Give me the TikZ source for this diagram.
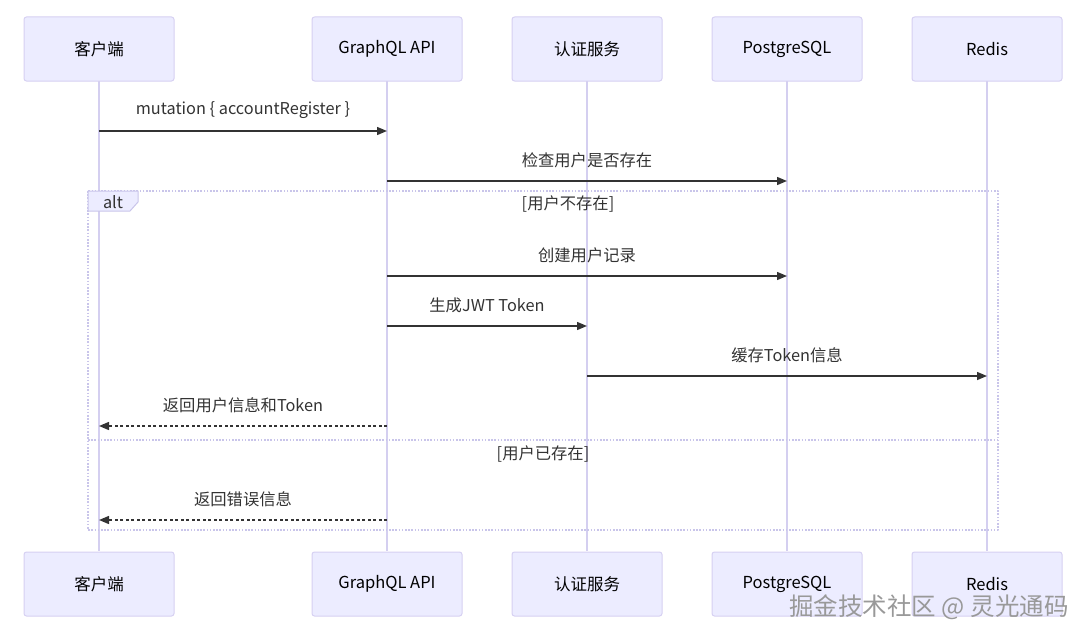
\documentclass[tikz,border=0pt]{standalone}
\usepackage{fontspec}
\setmainfont{Noto Sans CJK SC}
\usetikzlibrary{arrows.meta}
\definecolor{actorfill}{HTML}{ECECFF}
\definecolor{actorline}{HTML}{D6D0F2}
\definecolor{lifeline}{HTML}{D4CFF0}
\definecolor{msgline}{HTML}{333333}
\definecolor{frameline}{HTML}{C9C5EA}
\tikzset{
  actor/.style={draw=actorline,fill=actorfill,rounded corners=2.5pt,line width=1pt,
    minimum width=150pt,minimum height=64pt,inner sep=0pt,font=\fontsize{16.5}{19}\selectfont},
  msg/.style={draw=msgline,line width=1.4pt,-{Triangle[length=10pt,width=8pt]}},
  reply/.style={msg,dash pattern=on 3pt off 2.5pt},
  msglabel/.style={text=msgline,font=\fontsize{16.3}{19}\selectfont,inner sep=0pt},
  framebox/.style={draw=frameline,line width=1.2pt,dash pattern=on 1.6pt off 1.6pt},
}
\begin{document}
\begin{tikzpicture}[x=1pt,y=-1pt,line join=round]
\useasboundingbox (0,0) rectangle (1091,642);
\def\ytop{49}
\def\ybot{584}
% lifelines and actors
\foreach \n/\x/\t in {kh/99/客户端,gq/387/GraphQL API,rz/587/认证服务,pg/787/PostgreSQL,rd/987/Redis}{
  \draw[lifeline,line width=1.4pt] (\x,80) -- (\x,551);
  \node[actor] (\n-top) at (\x,\ytop) {\t};
  \node[actor] (\n-bot) at (\x,\ybot) {\t};
}
% message anchors on the lifelines
\path
  (99,131) coordinate (m1a) (387,131) coordinate (m1b)
  (387,181) coordinate (m2a) (787,181) coordinate (m2b)
  (387,276) coordinate (m3a) (787,276) coordinate (m3b)
  (387,326) coordinate (m4a) (587,326) coordinate (m4b)
  (587,376) coordinate (m5a) (987,376) coordinate (m5b)
  (387,426) coordinate (m6a) (99,426) coordinate (m6b)
  (387,520) coordinate (m7a) (99,520) coordinate (m7b)
  ;
% alt frame
\draw[framebox] (88,191) rectangle (998,530);
\draw[framebox] (88,440) -- (998,440);
\draw[draw=frameline,fill=actorfill,line width=1pt] (88,191) -- (138,191) -- (138,202) -- (130,211) -- (88,211) -- cycle;
\node[msglabel] (alt) at (113,202) {alt};
\node[msglabel] (g1) at (568,204) {[用户不存在]};
\node[msglabel] (g2) at (543,454) {[用户已存在]};
% messages
\draw[msg] (m1a) -- (m1b) node[msglabel,midway,above=12pt] {mutation \{ accountRegister \}};
\draw[msg] (m2a) -- (m2b) node[msglabel,midway,above=12pt] {检查用户是否存在};
\draw[msg] (m3a) -- (m3b) node[msglabel,midway,above=12pt] {创建用户记录};
\draw[msg] (m4a) -- (m4b) node[msglabel,midway,above=12pt] {生成JWT Token};
\draw[msg] (m5a) -- (m5b) node[msglabel,midway,above=12pt] {缓存Token信息};
\draw[reply] (m6a) -- (m6b) node[msglabel,midway,above=12pt] {返回用户信息和Token};
\draw[reply] (m7a) -- (m7b) node[msglabel,midway,above=12pt] {返回错误信息};
% watermark
\node[text=gray!80,font=\fontsize{24.5}{28}\selectfont,inner sep=0pt] (mark) at (929,607) {掘金技术社区 @ 灵光通码};
\end{tikzpicture}
\end{document}
